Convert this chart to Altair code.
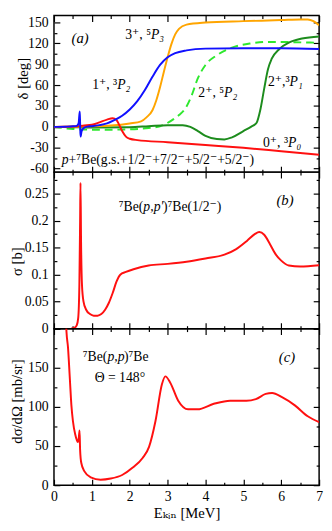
import altair as alt
import pandas as pd

FONT = "'Liberation Serif', 'Times New Roman', 'DejaVu Serif', serif"
W, H = 271, 160

# ---------------- data ----------------
# (a) phase shifts delta [deg] vs E_kin [MeV]
E_1p = [0.0, 0.3, 0.5, 0.6, 0.65, 0.68, 0.69, 0.70, 0.73, 0.8, 0.9, 1.0, 1.2, 1.4, 1.6, 1.8, 2.0, 2.2, 2.4, 2.6, 2.8, 3.0, 3.2, 3.5, 4.0, 5.0, 6.0, 7.0]
d_1p = [0, 0.3, 0.8, 1.5, 5, 22, 5, -14, -6, -1, 0.5, 1, 2.5, 5, 10, 16, 25, 37, 53, 72, 89, 100, 106, 110, 112.5, 113, 113, 112]

E_3p = [0.0, 0.5, 1.0, 1.5, 2.0, 2.3, 2.45, 2.6, 2.7, 2.8, 2.9, 3.0, 3.1, 3.2, 3.3, 3.5, 4.0, 5.0, 6.0, 6.5, 6.7, 6.85, 7.0]
d_3p = [0, 0.2, 0.8, 2, 5, 8, 14, 24, 38, 57, 79, 100, 119, 133, 141, 147, 150, 152, 153.5, 154.5, 154.5, 152, 146]

E_2p5 = [0.0, 0.5, 1.0, 1.5, 2.0, 2.5, 2.8, 3.1, 3.3, 3.45, 3.62, 3.8, 4.0, 4.3, 4.7, 5.2, 5.6, 6.0, 6.5, 7.0]
d_2p5 = [0, -3, -4, -4, -3.5, -1.5, 1, 9, 17, 25, 43, 70, 89, 103, 114, 120, 122, 122, 121.5, 121]

E_2p3 = [0.0, 0.5, 1.0, 2.0, 2.5, 3.0, 3.4, 3.6, 3.8, 4.0, 4.3, 4.5, 4.7, 5.0, 5.2, 5.35, 5.45, 5.55, 5.65, 5.75, 5.95, 6.2, 6.55, 7.0]
d_2p3 = [0, -0.5, -1, -0.5, 1, 2.5, 2.5, 0, -6, -13, -17.5, -18, -15, -6, 0, 6, 25, 55, 83, 98, 112, 121, 127, 130]

E_0p = [0.0, 0.5, 0.8, 1.0, 1.2, 1.4, 1.55, 1.65, 1.72, 1.8, 1.9, 2.0, 2.2, 3.0, 4.0, 5.0, 6.0, 7.0]
d_0p = [0, 0.5, 2, 3, 6.5, 10.5, 12.5, 10, 3, -6, -14, -17, -19, -22, -26, -30, -35, -40]

# (b) inelastic cross section sigma [b]
E_b = [0.45, 0.55, 0.6, 0.64, 0.67, 0.69, 0.70, 0.715, 0.74, 0.78, 0.85, 0.95, 1.05, 1.15, 1.25, 1.35, 1.45, 1.55, 1.65, 1.75, 1.9, 2.1, 2.5, 3.0, 3.5, 4.0, 4.5, 4.8, 5.1, 5.3, 5.42, 5.55, 5.7, 5.85, 6.0, 6.2, 6.5, 7.0]
s_b = [0, 0.002, 0.006, 0.02, 0.08, 0.2, 0.27, 0.16, 0.08, 0.05, 0.035, 0.027, 0.024, 0.024, 0.027, 0.035, 0.048, 0.066, 0.087, 0.1, 0.105, 0.11, 0.117, 0.12, 0.124, 0.13, 0.137, 0.147, 0.163, 0.175, 0.179, 0.174, 0.157, 0.138, 0.126, 0.117, 0.115, 0.1175]

# (c) elastic differential cross section [mb/sr] at 148 deg
E_c = [0.3, 0.33, 0.37, 0.42, 0.46, 0.5, 0.56, 0.6, 0.63, 0.655, 0.675, 0.69, 0.72, 0.8, 0.97, 1.23, 1.5, 1.8, 2.08, 2.34, 2.51, 2.68, 2.85, 2.94, 3.07, 3.28, 3.54, 3.79, 4.22, 4.65, 5.08, 5.33, 5.59, 5.76, 6.02, 6.36, 6.7, 7.0]
v_c = [230, 196, 176, 135, 102, 82, 65, 58, 55, 60, 70, 45, 28.6, 18, 10, 7, 8.5, 13, 22.5, 34.8, 49, 82, 129, 139, 131, 108, 97, 97, 104, 108, 108, 110, 116.6, 117.8, 112.5, 102, 88, 80.6]

# axis ticks
x_major = [0, 1, 2, 3, 4, 5, 6, 7]
x_minor = [0.5, 1.5, 2.5, 3.5, 4.5, 5.5, 6.5]
ya_major = [-60, -30, 0, 30, 60, 90, 120, 150]
ya_minor = [-45, -15, 15, 45, 75, 105, 135]
yb_major = [0, 0.05, 0.1, 0.15, 0.2, 0.25]
yb_minor = [0.025, 0.075, 0.125, 0.175, 0.225, 0.275]
yc_major = [0, 50, 100, 150, 200]
yc_minor = [25, 75, 125, 175]
yc_labels = [0, 50, 100, 150]

# ---------------- helpers ----------------
DUMMY = pd.DataFrame({"x": [0.0], "y": [0.0]})
LABEL_EXPR = "datum.value < 0 ? '-' + format(-datum.value, '~g') : format(datum.value, '~g')"


def line(E, v, color, xs, ys, dash=None):
    df = pd.DataFrame({"E": E, "v": v})
    kw = dict(color=color, strokeWidth=2, clip=True, interpolate="monotone")
    if dash:
        kw["strokeDash"] = dash
    return alt.Chart(df).mark_line(**kw).encode(
        x=alt.X("E:Q", scale=xs, axis=None),
        y=alt.Y("v:Q", scale=ys, axis=None),
    )


def axis_layer(xs, ys, ch, ax):
    if ch == "x":
        enc = dict(x=alt.X("x:Q", scale=xs, axis=ax), y=alt.Y("y:Q", scale=ys, axis=None))
    else:
        enc = dict(x=alt.X("x:Q", scale=xs, axis=None), y=alt.Y("y:Q", scale=ys, axis=ax))
    return alt.Chart(DUMMY).mark_point(opacity=0).encode(**enc)


def tick_axes(xs, ys, ymaj, ymin):
    layers = []
    for ch, orient, vals, size in [
        ("x", "bottom", x_major, 6), ("x", "bottom", x_minor, 3),
        ("x", "top", x_major, 6), ("x", "top", x_minor, 3),
        ("y", "left", ymaj, 6), ("y", "left", ymin, 3),
        ("y", "right", ymaj, 6), ("y", "right", ymin, 3),
    ]:
        ax = alt.Axis(orient=orient, values=vals, ticks=True, tickSize=size, offset=-size,
                      tickColor="black", tickWidth=1.2, labels=False, domain=False,
                      grid=False, title=None)
        layers.append(axis_layer(xs, ys, ch, ax))
    return layers


def ylabel_axis(xs, ys, vals, title, tx, ty):
    ax = alt.Axis(orient="left", values=vals, ticks=False, tickSize=0, domain=False, grid=False,
                  labelFont=FONT, labelFontSize=14, labelColor="black", labelPadding=6,
                  labelExpr=LABEL_EXPR, labelFlush=False, labelOverlap=False,
                  title=title, titleFont=FONT, titleFontSize=15, titleFontWeight="normal",
                  titleColor="black", titleX=tx, titleY=ty, titleBaseline="middle")
    return axis_layer(xs, ys, "y", ax)


def xlabel_axis(xs, ys):
    ax = alt.Axis(orient="bottom", values=x_major, ticks=False, tickSize=0, domain=False, grid=False,
                  labelFont=FONT, labelFontSize=14, labelColor="black", labelPadding=5,
                  format="~g", labelFlush=False,
                  title="Eₖᵢₙ [MeV]", titleFont=FONT, titleFontSize=15, titleFontWeight="normal",
                  titleColor="black", titlePadding=2)
    return axis_layer(xs, ys, "x", ax)


def txt(xs, ys, x, y, s, italic=False, align="center", dx=0, size=14):
    df = pd.DataFrame({"x": [x], "y": [y], "t": [s]})
    return alt.Chart(df).mark_text(font=FONT, fontSize=size,
                                   fontStyle="italic" if italic else "normal",
                                   align=align, baseline="middle", dx=dx, color="black").encode(
        x=alt.X("x:Q", scale=xs, axis=None),
        y=alt.Y("y:Q", scale=ys, axis=None),
        text="t:N",
    )


def panel(layers):
    return alt.layer(*layers).resolve_axis(x="independent", y="independent").properties(width=W, height=H)


# ---------------- panel (a) ----------------
xa = alt.Scale(domain=[0, 7], nice=False, zero=False)
ya = alt.Scale(domain=[-65, 160], nice=False, zero=False)
pa_layers = [
    line(E_2p5, d_2p5, "#2ee82e", xa, ya, dash=[8, 5]),
    line(E_2p3, d_2p3, "#1d8c1d", xa, ya),
    line(E_3p, d_3p, "#ffa500", xa, ya),
    line(E_0p, d_0p, "#ff1010", xa, ya),
    line(E_1p, d_1p, "#1010ff", xa, ya),
] + tick_axes(xa, ya, ya_major, ya_minor) + [
    ylabel_axis(xa, ya, ya_major, "δ [deg]", -32, 64),
    txt(xa, ya, 0.69, 128, "(a)", italic=True, size=15),
    txt(xa, ya, 2.56, 132, "3⁺, ⁵", align="right"),
    txt(xa, ya, 2.56, 132, "P₃", italic=True, align="left"),
    txt(xa, ya, 1.67, 60, "1⁺, ³", align="right"),
    txt(xa, ya, 1.67, 60, "P₂", italic=True, align="left"),
    txt(xa, ya, 4.49, 48.5, "2⁺, ⁵", align="right"),
    txt(xa, ya, 4.49, 48.5, "P₂", italic=True, align="left"),
    txt(xa, ya, 6.22, 64, "2⁺,³", align="right"),
    txt(xa, ya, 6.22, 64, "P₁", italic=True, align="left"),
    txt(xa, ya, 6.18, -22.7, "0⁺, ³", align="right"),
    txt(xa, ya, 6.18, -22.7, "P₀", italic=True, align="left"),
    txt(xa, ya, 0.385, -47.5, "p", italic=True, align="right"),
    txt(xa, ya, 0.385, -47.5, "+⁷Be(g.s.+1/2⁻+7/2⁻+5/2⁻+5/2⁻)", align="left"),
]
pa = panel(pa_layers)

# ---------------- panel (b) ----------------
xb = alt.Scale(domain=[0, 7], nice=False, zero=False)
yb = alt.Scale(domain=[0, 0.29], nice=False, zero=False)
pb_layers = [
    line(E_b, s_b, "#ff1010", xb, yb),
] + tick_axes(xb, yb, yb_major, yb_minor) + [
    ylabel_axis(xb, yb, yb_major, "σ [b]", -38.5, 91),
    txt(xb, yb, 6.1, 0.238, "(b)", italic=True, size=15),
    txt(xb, yb, 2.36, 0.2247, "⁷Be(", align="right"),
    txt(xb, yb, 2.36, 0.2247, "p,p'", italic=True, align="left"),
    txt(xb, yb, 2.36, 0.2247, ")⁷Be(1/2⁻)", align="left", dx=20),
]
pb = panel(pb_layers)

# ---------------- panel (c) ----------------
xc = alt.Scale(domain=[0, 7], nice=False, zero=False)
yc = alt.Scale(domain=[0, 200], nice=False, zero=False)
pc_layers = [
    line(E_c, v_c, "#ff1010", xc, yc),
] + tick_axes(xc, yc, yc_major, yc_minor) + [
    ylabel_axis(xc, yc, yc_labels, "dσ/dΩ [mb/sr]", -38.5, 74),
    xlabel_axis(xc, yc),
    txt(xc, yc, 6.15, 164, "(c)", italic=True, size=15),
    txt(xc, yc, 1.41, 164, "⁷Be(", align="right"),
    txt(xc, yc, 1.41, 164, "p,p", italic=True, align="left"),
    txt(xc, yc, 1.41, 164, ")⁷Be", align="left", dx=17),
    txt(xc, yc, 1.74, 137, "Θ = 148°"),
]
pc = panel(pc_layers)

chart = alt.vconcat(pa, pb, pc, spacing=0, bounds="flush",
                    padding={"left": 0, "top": 0, "right": 0, "bottom": 0}).configure_view(
    stroke="black", strokeWidth=1.5)

chart.save("out.html", embed_options={"renderer": "svg", "actions": False})
